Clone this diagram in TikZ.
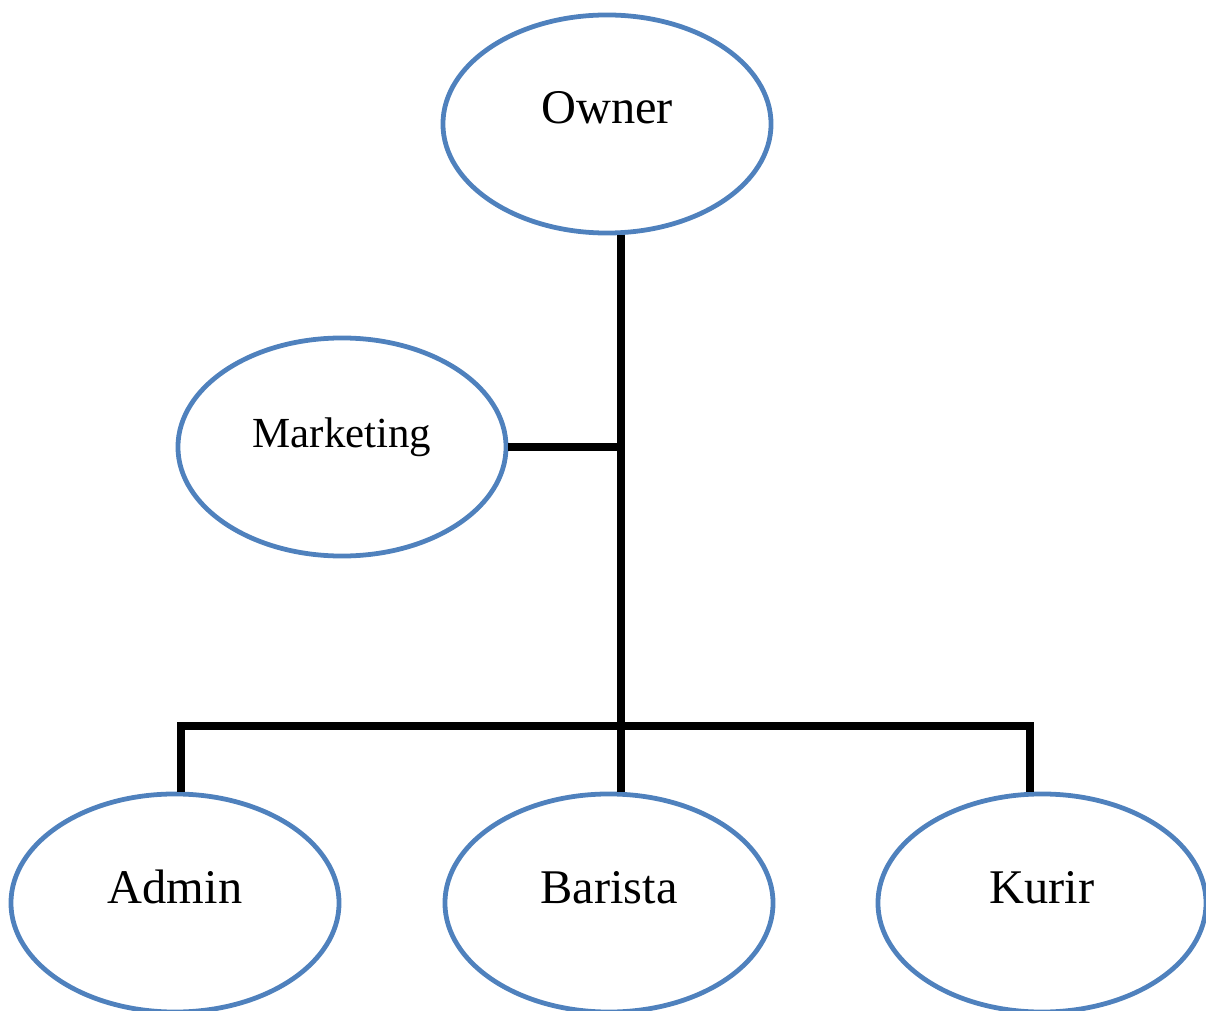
\documentclass[tikz,border=0pt]{standalone}
\usepackage{fontspec}
\setmainfont{Liberation Serif}
\usetikzlibrary{shapes.geometric}
\definecolor{birukantor}{RGB}{79,129,189}
\tikzstyle{jabatan}=[ellipse,draw=birukantor,line width=3.4pt,inner sep=0pt,
  minimum width=8.2cm,minimum height=5.45cm,text height=1em,text depth=1em,
  font=\fontsize{34.4}{40}\selectfont]
\tikzstyle{garis}=[line width=5pt]

\begin{document}
\begin{tikzpicture}[x=0.025cm,y=-0.025cm]
    \useasboundingbox (0,0) rectangle (1206,1011);
    \node [jabatan] (owner)     at (607, 124) {Owner};
    \node [jabatan,font=\fontsize{30.5}{36}\selectfont] (marketing) at (342, 447) {Marketing};
    \node [jabatan] (admin)     at (175, 903) {Admin};
    \node [jabatan] (barista)   at (609, 903) {Barista};
    \node [jabatan] (kurir)     at (1042, 903) {Kurir};
    \coordinate (cabang) at (621, 726);
    \coordinate (kiri)   at (181, 726);
    \coordinate (kanan)  at (1030, 726);
    \draw [garis] (cabang |- owner.south) -- (cabang |- barista.north);
    \draw [garis] (marketing.east) -- (marketing.east -| cabang);
    \draw [garis] (admin.north -| kiri) -- (kiri) -- (kanan) -- (kurir.north -| kanan);
\end{tikzpicture}
\end{document}
